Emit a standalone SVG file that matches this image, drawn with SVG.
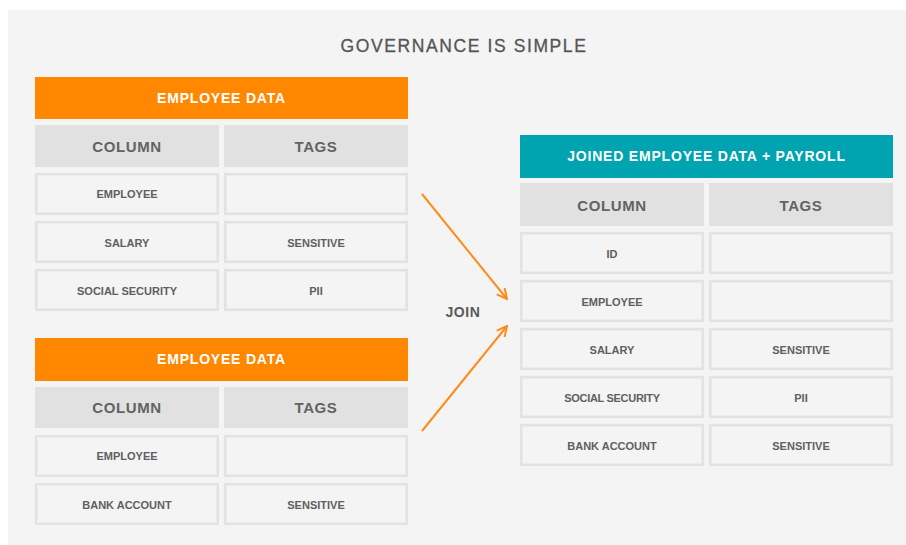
<svg xmlns="http://www.w3.org/2000/svg" width="906" height="545" viewBox="0 0 906 545">
<defs>
<style>
.bg{fill:#f3f4f3}
.cell{fill:#f3f4f3;stroke:#e1e2e1;stroke-width:2.5}
.hcell{fill:#e1e1e1}
.ttl{fill:#ff8800}
.tteal{fill:#00a3b0}
.ht{font-family:"Liberation Sans",Arial,sans-serif;font-weight:bold;font-size:14px;fill:#fff;text-anchor:middle;letter-spacing:0.8px}
.ch{font-family:"Liberation Sans",Arial,sans-serif;font-weight:bold;font-size:15px;fill:#636363;text-anchor:middle;letter-spacing:0.6px}
.ct{font-family:"Liberation Sans",Arial,sans-serif;font-size:11px;fill:#606060;text-anchor:middle;font-weight:bold}
.title{font-family:"Liberation Sans",Arial,sans-serif;font-size:17.5px;fill:#555;stroke:#555;stroke-width:0.3;text-anchor:middle;letter-spacing:1.6px}
.join{font-family:"Liberation Sans",Arial,sans-serif;font-weight:bold;font-size:14px;fill:#5a5a5a;text-anchor:middle;letter-spacing:0.6px}
.arr{stroke:#ff8c1a;stroke-width:2;fill:none}
</style>
<marker id="ah" viewBox="0 0 12 12" refX="11" refY="6" markerWidth="12" markerHeight="12" markerUnits="userSpaceOnUse" orient="auto">
<path d="M1,1 L11,6 L1,11" fill="none" stroke="#ff8c1a" stroke-width="2"/>
</marker>
</defs>
<rect x="8" y="10" width="898" height="535" class="bg"/>
<text x="464" y="52" class="title">GOVERNANCE IS SIMPLE</text>

<g id="table1">
<rect x="35" y="77" width="373" height="42" class="ttl"/>
<text x="221.5" y="103" class="ht">EMPLOYEE DATA</text>
<rect x="35" y="125" width="184" height="42" class="hcell"/>
<rect x="224" y="125" width="184" height="42" class="hcell"/>
<text x="127" y="152" class="ch">COLUMN</text>
<text x="316" y="152" class="ch">TAGS</text>
<rect x="36.2" y="174.2" width="181.6" height="39.6" class="cell"/>
<rect x="225.2" y="174.2" width="181.6" height="39.6" class="cell"/>
<text x="127" y="198" class="ct">EMPLOYEE</text>
<rect x="36.2" y="222.2" width="181.6" height="39.6" class="cell"/>
<rect x="225.2" y="222.2" width="181.6" height="39.6" class="cell"/>
<text x="127" y="247" class="ct">SALARY</text>
<text x="316" y="247" class="ct">SENSITIVE</text>
<rect x="36.2" y="270.2" width="181.6" height="39.6" class="cell"/>
<rect x="225.2" y="270.2" width="181.6" height="39.6" class="cell"/>
<text x="127" y="295" class="ct">SOCIAL SECURITY</text>
<text x="316" y="295" class="ct">PII</text>
</g>

<g id="table2">
<rect x="35" y="338" width="373" height="43" class="ttl"/>
<text x="221.5" y="364" class="ht">EMPLOYEE DATA</text>
<rect x="35" y="387" width="184" height="41" class="hcell"/>
<rect x="224" y="387" width="184" height="41" class="hcell"/>
<text x="127" y="413" class="ch">COLUMN</text>
<text x="316" y="413" class="ch">TAGS</text>
<rect x="36.2" y="436.2" width="181.6" height="39.6" class="cell"/>
<rect x="225.2" y="436.2" width="181.6" height="39.6" class="cell"/>
<text x="127" y="460" class="ct">EMPLOYEE</text>
<rect x="36.2" y="484.2" width="181.6" height="39.6" class="cell"/>
<rect x="225.2" y="484.2" width="181.6" height="39.6" class="cell"/>
<text x="127" y="509" class="ct">BANK ACCOUNT</text>
<text x="316" y="509" class="ct">SENSITIVE</text>
</g>

<g id="table3">
<rect x="520" y="135" width="373" height="43" class="tteal"/>
<text x="706.5" y="161" class="ht">JOINED EMPLOYEE DATA + PAYROLL</text>
<rect x="520" y="183" width="184" height="43" class="hcell"/>
<rect x="709" y="183" width="184" height="43" class="hcell"/>
<text x="612" y="211" class="ch">COLUMN</text>
<text x="801" y="211" class="ch">TAGS</text>
<rect x="521.2" y="233.2" width="181.6" height="39.6" class="cell"/>
<rect x="710.2" y="233.2" width="181.6" height="39.6" class="cell"/>
<text x="612" y="258" class="ct">ID</text>
<rect x="521.2" y="281.2" width="181.6" height="39.6" class="cell"/>
<rect x="710.2" y="281.2" width="181.6" height="39.6" class="cell"/>
<text x="612" y="306" class="ct">EMPLOYEE</text>
<rect x="521.2" y="329.2" width="181.6" height="39.6" class="cell"/>
<rect x="710.2" y="329.2" width="181.6" height="39.6" class="cell"/>
<text x="612" y="354" class="ct">SALARY</text>
<text x="801" y="354" class="ct">SENSITIVE</text>
<rect x="521.2" y="377.2" width="181.6" height="39.6" class="cell"/>
<rect x="710.2" y="377.2" width="181.6" height="39.6" class="cell"/>
<text x="612" y="402" class="ct" letter-spacing="-0.3">SOCIAL SECURITY</text>
<text x="801" y="402" class="ct">PII</text>
<rect x="521.2" y="425.2" width="181.6" height="39.6" class="cell"/>
<rect x="710.2" y="425.2" width="181.6" height="39.6" class="cell"/>
<text x="612" y="450" class="ct">BANK ACCOUNT</text>
<text x="801" y="450" class="ct">SENSITIVE</text>
</g>

<g id="connectors">
<line x1="422" y1="194" x2="507" y2="299" class="arr" marker-end="url(#ah)"/>
<line x1="422" y1="431" x2="507" y2="326" class="arr" marker-end="url(#ah)"/>
<text x="463" y="317" class="join">JOIN</text>
</g>
</svg>
